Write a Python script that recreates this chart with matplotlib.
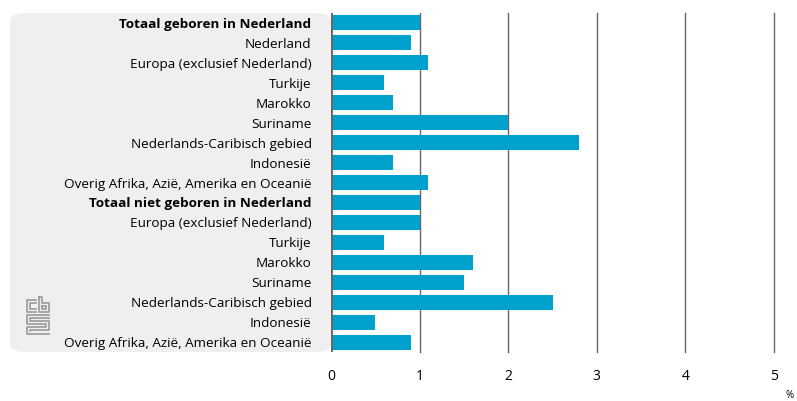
import matplotlib.pyplot as plt
from matplotlib.patches import FancyBboxPatch
from matplotlib.lines import Line2D

plt.rcParams['font.family'] = ['Open Sans', 'DejaVu Sans']

categories = [
    'Totaal geboren in Nederland',
    'Nederland',
    'Europa (exclusief Nederland)',
    'Turkije',
    'Marokko',
    'Suriname',
    'Nederlands-Caribisch gebied',
    'Indonesië',
    'Overig Afrika, Azië, Amerika en Oceanië',
    'Totaal niet geboren in Nederland',
    'Europa (exclusief Nederland)',
    'Turkije',
    'Marokko',
    'Suriname',
    'Nederlands-Caribisch gebied',
    'Indonesië',
    'Overig Afrika, Azië, Amerika en Oceanië',
]
values = [1.0, 0.9, 1.1, 0.6, 0.7, 2.0, 2.8, 0.7, 1.1,
          1.0, 1.0, 0.6, 1.6, 1.5, 2.5, 0.5, 0.9]
bold_rows = [0, 9]
xticks = [0, 1, 2, 3, 4, 5]

W, H = 797, 401
fig = plt.figure(figsize=(W / 100, H / 100), dpi=100)

# grey label panel
panel = FancyBboxPatch((10 / W, 1 - 352 / H), (331 - 10) / W, (352 - 13) / H,
                       boxstyle='round,pad=0,rounding_size=0.02',
                       transform=fig.transFigure, facecolor='#efefef',
                       edgecolor='none', zorder=-1)
fig.patches.append(panel)

ax = fig.add_axes([331 / W, 1 - 352 / H, (774 - 331) / W, (352 - 13) / H])
ax.patch.set_alpha(0)

y = list(range(len(categories)))
ax.barh(y, values, height=0.75, color='#00a1cd', zorder=3)
ax.set_ylim(len(categories) - 0.5, -0.5)
ax.set_xlim(0, 5)

for x in xticks[1:]:
    ax.axvline(x, color='#666666', linewidth=1, zorder=1, clip_on=False)
ax.axvline(0, color='#666666', linewidth=2, zorder=4)

for s in ax.spines.values():
    s.set_visible(False)

ax.set_yticks(y)
ax.set_yticklabels(categories, fontsize=9.7, color='#000000')
for i, lab in enumerate(ax.get_yticklabels()):
    if i in bold_rows:
        lab.set_fontweight('bold')
ax.tick_params(axis='y', length=0, pad=14)
ax.set_xticks(xticks)
ax.set_xticklabels([str(t) for t in xticks], fontsize=10, color='#000000')
ax.tick_params(axis='x', length=0, pad=12)

fig.text(790 / W, 1 - 395 / H, '%', fontsize=7, ha='center', va='center')

# CBS logo (simplified)
def fx(px):
    return px / W

def fy(py):
    return 1 - py / H

logo = '#9a9a9a'
paths = [
    # c
    [(36, 300), (27, 300), (27, 312), (36, 312)],
    [(36, 303), (30, 303), (30, 309), (36, 309)],
    # b
    [(39, 297), (39, 312), (49, 312), (49, 303), (42, 303), (42, 297), (39, 297)],
    [(42, 306), (46, 306), (46, 309), (42, 309), (42, 306)],
    # s
    [(49, 315), (27, 315), (27, 324), (46, 324), (46, 327), (27, 327), (27, 334), (49, 334)],
    [(49, 318), (30, 318), (30, 321), (49, 321), (49, 330), (30, 330), (30, 331)],
]
for p in paths:
    fig.add_artist(Line2D([fx(a) for a, b in p], [fy(b) for a, b in p],
                          color=logo, linewidth=1.2, transform=fig.transFigure))

fig.savefig('out.png', dpi=100)
